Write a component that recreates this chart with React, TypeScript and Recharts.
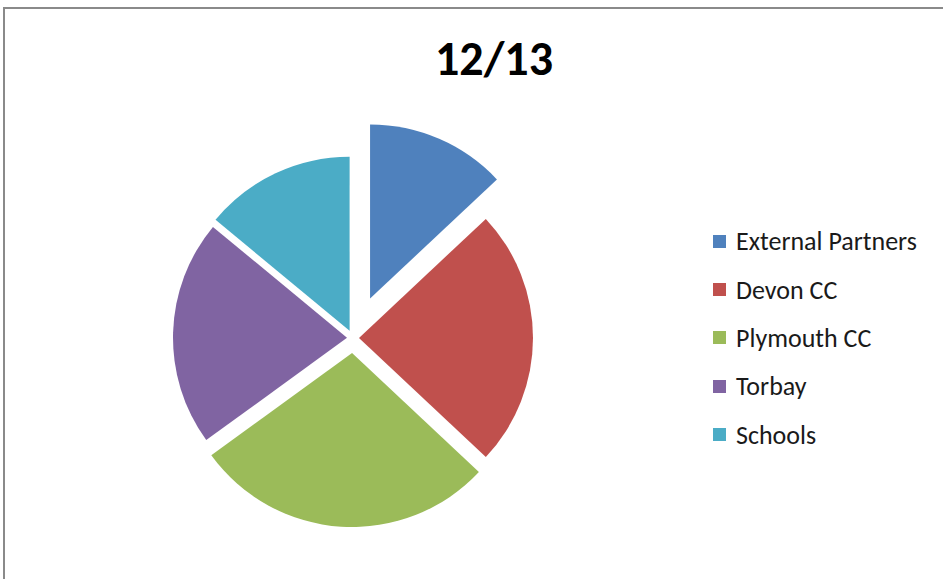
import { Cell, Legend, Pie, PieChart } from "recharts";

const NAMES = ["External Partners", "Devon CC", "Plymouth CC", "Torbay", "Schools"];
const VALUES = [13, 24, 28, 21, 14];
const COLORS = ["#4F81BD", "#C0504D", "#9BBB59", "#8064A2", "#4BACC6"];
// how far each slice is pulled out of the pie (px)
const EXPLODE = [43, 6, 15, 6, 8];

const FONT = "Carlito, Calibri, 'Liberation Sans', Arial, sans-serif";

const data = NAMES.map((name, i) => ({ name, value: VALUES[i] }));

const total = VALUES.reduce((a, b) => a + b, 0);
let acc = 0;
const offsets = VALUES.map((v, i) => {
  const mid = 90 - ((acc + v / 2) / total) * 360;
  acc += v;
  const rad = (mid * Math.PI) / 180;
  return {
    dx: EXPLODE[i] * Math.cos(rad),
    dy: -EXPLODE[i] * Math.sin(rad),
  };
});

function renderLegend(props: any) {
  // keep the series order, not the alphabetical one
  const payload = [...(props.payload || [])].sort(
    (a: any, b: any) => NAMES.indexOf(a.value) - NAMES.indexOf(b.value)
  );
  return (
    <div style={{ fontFamily: FONT }}>
      {payload.map((entry: any, i: number) => (
        <div
          key={i}
          style={{ height: 48.4, display: "flex", alignItems: "center" }}
        >
          <span
            style={{
              width: 13,
              height: 13,
              background: COLORS[NAMES.indexOf(entry.value)] || entry.color,
              display: "inline-block",
              marginRight: 10,
            }}
          />
          <span style={{ fontSize: 26, lineHeight: "26px", color: "#1a1a1a" }}>
            {entry.value}
          </span>
        </div>
      ))}
    </div>
  );
}

export default function App() {
  return (
    <div
      style={{
        position: "absolute",
        left: 0,
        top: 0,
        width: 943,
        height: 579,
        overflow: "hidden",
        background: "#fff",
      }}
    >
      <div
        style={{
          position: "absolute",
          left: 3,
          top: 7,
          width: 1000,
          height: 1000,
          border: "2px solid #8a8a8a",
        }}
      />
      <div
        style={{
          position: "absolute",
          left: 394,
          top: 35,
          width: 200,
          textAlign: "center",
          fontFamily: FONT,
          fontWeight: "bold",
          fontSize: 48,
          lineHeight: "48px",
          color: "#000",
        }}
      >
        12/13
      </div>
      <div style={{ position: "absolute", left: 0, top: 0 }}>
        <PieChart width={943} height={579} margin={{ top: 0, right: 0, bottom: 0, left: 0 }}>
          <Pie
            data={data}
            dataKey="value"
            nameKey="name"
            cx={353}
            cy={338}
            outerRadius={174}
            startAngle={90}
            endAngle={-270}
            stroke="none"
            isAnimationActive={false}
          >
            {data.map((d, i) => (
              <Cell
                key={d.name}
                fill={COLORS[i]}
                transform={`translate(${offsets[i].dx}, ${offsets[i].dy})`}
              />
            ))}
          </Pie>
          <Legend
            layout="vertical"
            align="right"
            verticalAlign="middle"
            content={renderLegend}
            wrapperStyle={{ left: 713, right: "auto", top: 217, width: 230 }}
          />
        </PieChart>
      </div>
    </div>
  );
}
